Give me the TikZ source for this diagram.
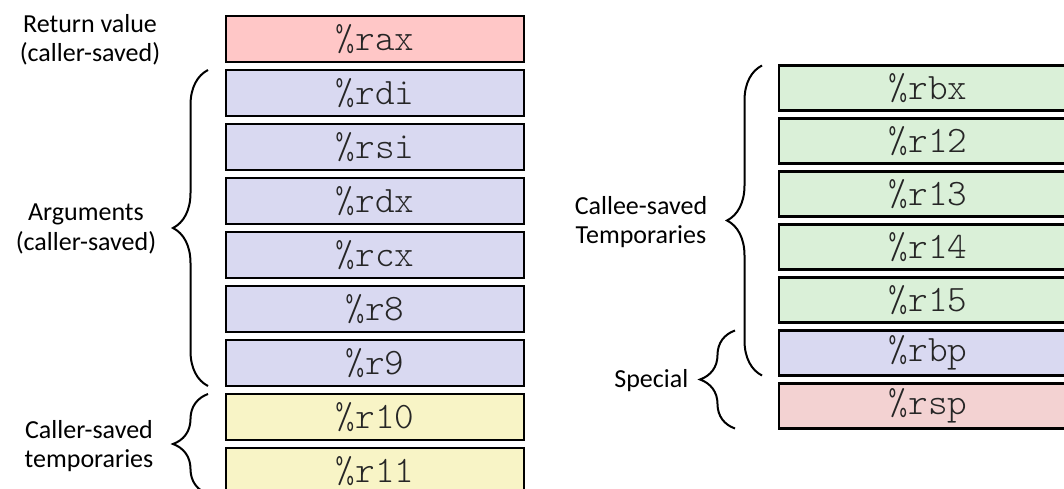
\documentclass[tikz,border=0pt]{standalone}
\usepackage{fontspec}
\setmainfont{Carlito}
\setmonofont{Latin Modern Mono Light}
\usetikzlibrary{positioning, decorations.pathreplacing}

\definecolor{retred}{HTML}{FFC7C7}
\definecolor{argblue}{HTML}{D9D9F1}
\definecolor{tmpyellow}{HTML}{F8F4C6}
\definecolor{savgreen}{HTML}{DAF0D8}
\definecolor{sppink}{HTML}{F3D2D2}

\begin{document}
\begin{tikzpicture}[
    x=0.75pt,
    y=-0.75pt,
    node distance=6pt,
    reg/.style={draw, line width=2pt, minimum width=223.5pt, minimum height=34.5pt,
        inner sep=0pt, outer sep=0pt, text=black!85,
        font=\fontsize{28}{28}\selectfont\ttfamily},
    rreg/.style={reg, minimum height=33.75pt},
    side/.style={align=center, font=\fontsize{19.5}{22}\selectfont},
    curly/.style={decorate, line width=1.5pt,
        decoration={brace, amplitude=26.25pt, raise=#1}},
]

    \clip (0,0) rectangle (1064,489);

    % caller side
    \node[reg, fill=retred]                  (rax) at (375,39) {\%rax};
    \node[reg, fill=argblue,   below=of rax] (rdi) {\%rdi};
    \node[reg, fill=argblue,   below=of rdi] (rsi) {\%rsi};
    \node[reg, fill=argblue,   below=of rsi] (rdx) {\%rdx};
    \node[reg, fill=argblue,   below=of rdx] (rcx) {\%rcx};
    \node[reg, fill=argblue,   below=of rcx] (r8)  {\%r8};
    \node[reg, fill=argblue,   below=of r8]  (r9)  {\%r9};
    \node[reg, fill=tmpyellow, below=of r9]  (r10) {\%r10};
    \node[reg, fill=tmpyellow, below=of r10] (r11) {\%r11};

    % callee side
    \node[rreg, fill=savgreen]                  (rbx) at (928,88) {\%rbx};
    \node[rreg, fill=savgreen, below=of rbx]    (r12) {\%r12};
    \node[rreg, fill=savgreen, below=of r12]    (r13) {\%r13};
    \node[rreg, fill=savgreen, below=of r13]    (r14) {\%r14};
    \node[rreg, fill=savgreen, below=of r14]    (r15) {\%r15};
    \node[rreg, fill=argblue,  below=of r15]    (rbp) {\%rbp};
    \node[rreg, fill=sppink,   below=of rbp]    (rsp) {\%rsp};

    % braces
    \draw[curly=13.5pt]  (r9.south west)  -- (rdi.north west);
    \draw[curly=13.5pt]  (r11.south west) -- (r10.north west);
    \draw[curly=12.75pt] (rbp.south west) -- (rbx.north west);
    \draw[curly=33pt]    (rsp.south west) -- (rbp.north west);

    % labels
    \node[side]               (retlbl)    at (90,40)   {Return value\\(caller-saved)};
    \node[side]               (arglbl)    at (86,229)  {Arguments\\(caller-saved)};
    \node[side]               (tmplbl)    at (89,446)  {Caller-saved\\temporaries};
    \node[side]               (calleelbl) at (641,222) {Callee-saved\\Temporaries};
    \node[side, anchor=east]  (speclbl)   at (693,381) {Special};
\end{tikzpicture}
\end{document}
